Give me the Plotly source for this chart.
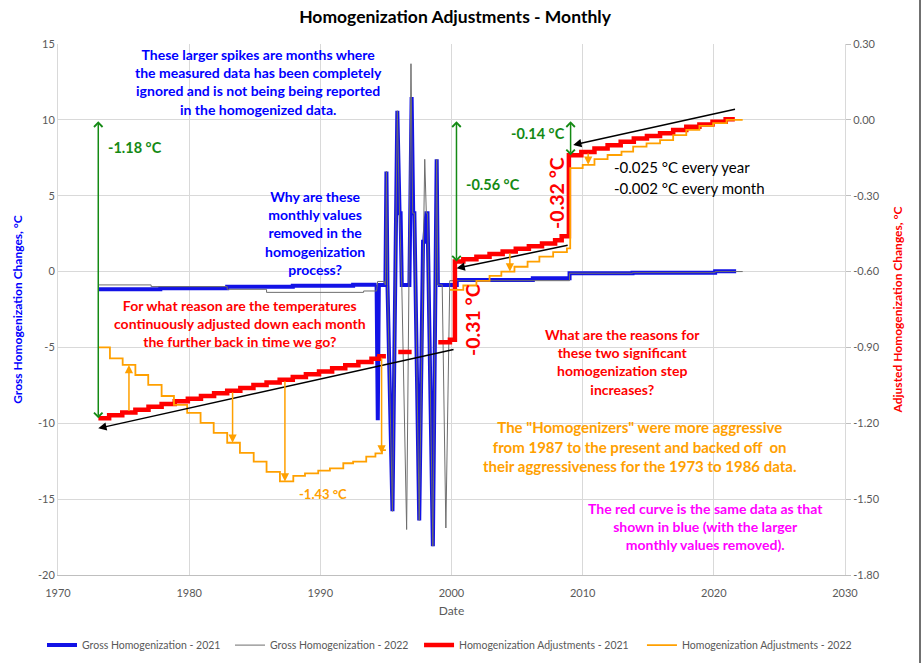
import plotly.graph_objects as go

# ---------------- data (decimal years, °C) ----------------
# Gross Homogenization - 2021 (left axis): stepped parts and the spiky 1994-1999 months
gross21_early_years = [1973.08, 1977.8, 1982.9, 1987.9, 1992.5]
gross21_early_vals = [-1.17, -1.10, -1.00, -0.93, -0.87]
gross21_early_end = 1994.29
gross21_spike_years = [1994.29, 1994.38, 1994.46, 1994.96, 1995.04, 1995.12, 1995.50, 1995.87,
                       1996.04, 1996.12, 1996.21, 1996.79, 1996.96, 1997.08, 1997.17, 1997.54,
                       1997.83, 1997.92, 1998.08, 1998.17, 1998.58, 1998.87, 1998.96]
gross21_spike_vals = [-0.87, -9.8, -0.88, -0.88, 6.6, -0.9, -15.8, 10.6,
                      3.85, 3.85, -0.88, -0.88, 11.5, 3.85, 3.85, -16.4,
                      1.97, 1.97, 3.85, 3.85, -18.1, 7.4, -0.88]
gross21_late_years = [1998.96, 2000.4, 2006.2, 2009.0, 2013.8, 2020.1]
gross21_late_vals = [-0.88, -0.55, -0.44, -0.11, -0.07, 0.02]
gross21_late_end = 2021.7

# Gross Homogenization - 2022 (left axis)
gross22_early_years = [1973.08, 1977.1, 1982.9, 1985.9, 1993.3]
gross22_early_vals = [-0.88, -0.99, -1.17, -1.37, -1.28]
gross22_early_end = 1994.29
gross22_spike_years = [1994.29, 1994.37, 1994.87, 1994.96, 1995.04, 1995.12, 1995.50, 1995.87,
                       1996.04, 1996.21, 1996.58, 1996.91, 1997.04, 1997.17, 1997.54, 1997.96,
                       1998.08, 1998.17, 1998.58, 1998.87, 1998.96, 1999.29, 1999.57, 1999.87,
                       2000.04]
gross22_spike_vals = [-1.28, -0.65, -0.65, -0.88, 6.6, -0.9, -15.8, 10.6,
                      3.85, -0.88, -17.0, 13.7, 3.85, 3.85, -16.4, 7.4,
                      3.85, 3.85, -18.1, 7.4, -0.88, -0.88, -16.9, -0.6,
                      -0.6]
gross22_late_years = [2000.04, 2009.0, 2013.8, 2020.1]
gross22_late_vals = [-0.6, -0.11, -0.07, 0.0]
gross22_late_end = 2022.2

# Homogenization Adjustments - 2021 (right axis), yearly steps
adj21_a_years = [1973.08, 1973.9, 1974.9, 1975.9, 1976.9, 1977.9, 1978.9, 1979.9, 1980.9,
                 1981.9, 1982.9, 1983.9, 1984.9, 1985.9, 1986.9, 1987.9, 1988.9, 1989.9,
                 1990.9, 1991.9, 1992.9, 1993.9, 1994.5]
adj21_a_vals = [-1.18, -1.168, -1.157, -1.146, -1.135, -1.124, -1.113, -1.103, -1.092,
                -1.081, -1.071, -1.060, -1.049, -1.039, -1.028, -1.017, -1.006, -0.995,
                -0.982, -0.970, -0.958, -0.945, -0.935]
adj21_a_end = 1995.0
adj21_b_years = [1995.94]
adj21_b_vals = [-0.918]
adj21_b_end = 1996.96
adj21_c_years = [1998.99, 1999.88, 2000.26, 2000.9, 2001.9, 2002.9, 2003.9, 2004.9, 2005.9,
                 2006.9, 2007.9, 2008.4, 2008.95, 2009.9, 2010.9, 2011.9, 2012.9, 2013.9,
                 2014.9, 2015.9, 2016.9, 2017.9, 2018.9, 2019.9, 2020.9]
adj21_c_vals = [-0.880, -0.870, -0.56, -0.551, -0.541, -0.531, -0.521, -0.510, -0.500,
                -0.489, -0.476, -0.46, -0.14, -0.127, -0.113, -0.100, -0.087, -0.074,
                -0.064, -0.053, -0.040, -0.027, -0.018, -0.007, 0.002]
adj21_c_end = 2021.6

# Homogenization Adjustments - 2022 (right axis)
adj22_a_years = [1973.08, 1973.96, 1974.93, 1975.9, 1976.88, 1977.9, 1978.84, 1979.85, 1980.87,
                 1981.87, 1982.9, 1983.87, 1984.92, 1985.9, 1986.92, 1987.94, 1988.83, 1989.84,
                 1990.73, 1991.75, 1992.5, 1993.5, 1994.2, 1994.7]
adj22_a_vals = [-0.90, -0.943, -0.969, -1.009, -1.048, -1.092, -1.127, -1.159, -1.198,
                -1.238, -1.277, -1.317, -1.352, -1.392, -1.43, -1.408, -1.398, -1.387,
                -1.378, -1.358, -1.352, -1.332, -1.319, -1.306]
adj22_a_end = 1995.0
adj22_b_years = [1999.88, 2000.9, 2001.9, 2002.9, 2003.8, 2004.8, 2005.8, 2006.7, 2007.75,
                 2008.8, 2009.05, 2010.0, 2010.9, 2011.9, 2012.96, 2013.85, 2014.87, 2015.9,
                 2016.9, 2017.9, 2018.9, 2019.95, 2020.97]
adj22_b_vals = [-0.672, -0.655, -0.637, -0.617, -0.600, -0.581, -0.561, -0.541, -0.523,
                -0.508, -0.191, -0.178, -0.155, -0.139, -0.126, -0.106, -0.093, -0.080,
                -0.060, -0.040, -0.024, -0.013, 0.0]
adj22_b_end = 2022.2

# axis ticks
left_ticks = [15, 10, 5, 0, -5, -10, -15, -20]
right_ticks = [0.30, 0.00, -0.30, -0.60, -0.90, -1.20, -1.50, -1.80]
x_ticks = [1970, 1980, 1990, 2000, 2010, 2020, 2030]

# ---------------- helpers ----------------
def step_xy(segments):
    xs, ys = [], []
    for years, vals, end in segments:
        if xs:
            xs.append(None)
            ys.append(None)
        xs += list(years) + [end]
        ys += list(vals) + [vals[-1]]
    return xs, ys


def level_at(years, vals, t):
    v = vals[0]
    for yr, val in zip(years, vals):
        if yr <= t:
            v = val
    return v


FONT = "Lato"
BLUE = "#1212e6"
GRAY = "#6e6e6e"
RED = "#ff0000"
ORANGE = "#ffa000"
GREEN = "#148a14"

fig = go.Figure()

# Gross 2021
x, y = step_xy([(gross21_early_years, gross21_early_vals, gross21_early_end),
                (gross21_late_years, gross21_late_vals, gross21_late_end)])
fig.add_trace(go.Scatter(x=x, y=y, mode="lines", line=dict(color=BLUE, width=4, shape="hv"),
                         name="Gross Homogenization - 2021", legendgroup="g21", legend="legend"))
fig.add_trace(go.Scatter(x=gross21_spike_years, y=gross21_spike_vals, mode="lines",
                         line=dict(color=BLUE, width=4), legendgroup="g21", showlegend=False))
# Gross 2022
x, y = step_xy([(gross22_early_years, gross22_early_vals, gross22_early_end),
                (gross22_late_years, gross22_late_vals, gross22_late_end)])
fig.add_trace(go.Scatter(x=x, y=y, mode="lines", line=dict(color=GRAY, width=1, shape="hv"),
                         name="Gross Homogenization - 2022", legendgroup="g22", legend="legend2"))
fig.add_trace(go.Scatter(x=gross22_spike_years, y=gross22_spike_vals, mode="lines",
                         line=dict(color=GRAY, width=1), legendgroup="g22", showlegend=False))
# Adjustments 2021
x, y = step_xy([(adj21_a_years, adj21_a_vals, adj21_a_end),
                (adj21_b_years, adj21_b_vals, adj21_b_end),
                (adj21_c_years, adj21_c_vals, adj21_c_end)])
fig.add_trace(go.Scatter(x=x, y=y, yaxis="y2", mode="lines",
                         line=dict(color=RED, width=4.5, shape="hv"),
                         name="Homogenization Adjustments - 2021", legend="legend3"))
# Adjustments 2022
x, y = step_xy([(adj22_a_years, adj22_a_vals, adj22_a_end),
                (adj22_b_years, adj22_b_vals, adj22_b_end)])
fig.add_trace(go.Scatter(x=x, y=y, yaxis="y2", mode="lines",
                         line=dict(color=ORANGE, width=1.8, shape="hv"),
                         name="Homogenization Adjustments - 2022", legend="legend4"))

adj21_years = adj21_a_years + adj21_c_years
adj21_vals = adj21_a_vals + adj21_c_vals
adj22_years = adj22_a_years + adj22_b_years
adj22_vals = adj22_a_vals + adj22_b_vals

ann = []


def arrow(x_head, y_head, x_tail, y_tail, color, both=False, head=4, yref="y2"):
    ann.append(dict(x=x_head, y=y_head, ax=x_tail, ay=y_tail, xref="x", yref=yref,
                    axref="x", ayref=yref, text="", showarrow=True, arrowhead=head,
                    startarrowhead=head, arrowside="end+start" if both else "end",
                    arrowsize=1.1, startarrowsize=1.1, arrowwidth=1.5, arrowcolor=color))


# green spans from the 0.00 line down to the red curve
for t in (1973.07, 2000.38, 2009.08):
    arrow(t, level_at(adj21_years, adj21_vals, t), t, 0.0, GREEN, both=True)

# black trend arrows
arrow(1973.07, -1.22, 2000.27, -0.907, "black", head=2)
arrow(2000.39, -0.587, 2008.97, -0.495, "black", head=2)
arrow(2009.28, -0.099, 2021.73, 0.043, "black", head=2)

# orange arrows from the 2021 curve to the 2022 curve
for t in (1975.41, 1983.31, 1987.3, 1994.67, 2004.45, 2010.42):
    arrow(t, level_at(adj22_years, adj22_vals, t), t, level_at(adj21_years, adj21_vals, t),
          ORANGE, head=2)


def label(x, y, text, color, size, xanchor="center", angle=0, bold=True):
    ann.append(dict(x=x, y=y, xref="x", yref="y", text=f"<b>{text}</b>" if bold else text,
                    showarrow=False, xanchor=xanchor, yanchor="middle", align="center",
                    textangle=angle, font=dict(family=FONT, size=size, color=color)))


label(1985.25, 12.47, "These larger spikes are months where<br>the measured data has been completely"
      "<br>ignored and is not being being reported<br>in the homogenized data.", "#0000ff", 14)
label(1989.59, 2.51, "Why are these<br>monthly values<br>removed in the<br>homogenization<br>process?",
      "#0000ff", 14)
label(1983.87, -3.39, "For what reason are the temperatures<br>continuously adjusted down each month"
      "<br>the further back in time we go?", RED, 14)
label(2013.07, -5.96, "What are the reasons for<br>these two significant<br>homogenization step<br>increases?",
      RED, 14)
label(2014.37, -11.5, "The \"Homogenizers\" were more aggressive<br>from 1987 to the present and backed off  on"
      "<br>their aggressiveness for the 1973 to 1986 data.", ORANGE, 15)
label(2019.4, -16.8, "The red curve is the same data as that<br>shown in blue (with the larger"
      "<br>monthly values removed).", "#ff00ff", 14)
label(1990.2, -14.66, "-1.43 °C", ORANGE, 13)
label(2012.24, 6.9, "-0.025 °C every year", "black", 15, xanchor="left", bold=False)
label(2012.24, 5.51, "-0.002 °C every month", "black", 15, xanchor="left", bold=False)
label(1973.66, 8.21, "-1.18 °C", GREEN, 14.5, xanchor="left")
label(2000.95, 5.71, "-0.56 °C", GREEN, 14.5, xanchor="left")
label(2004.38, 9.07, "-0.14 °C", GREEN, 14.5, xanchor="left")
label(2001.64, -3.19, "-0.31 °C", RED, 19.5, angle=-90)
label(2008.04, 5.18, "-0.32 °C", RED, 19.5, angle=-90)

tickfont = dict(family=FONT, size=11, color="#595959")


def legend_box(xpos):
    return dict(orientation="h", xref="container", x=xpos, xanchor="left",
                yref="container", y=0.027, yanchor="middle", itemwidth=30,
                font=dict(family=FONT, size=10.5, color="#595959"), bgcolor="rgba(0,0,0,0)")


fig.update_layout(
    width=923, height=663,
    margin=dict(l=58, r=78, t=44, b=88, autoexpand=False),
    paper_bgcolor="white", plot_bgcolor="white",
    font=dict(family=FONT),
    title=dict(text="<b>Homogenization Adjustments - Monthly</b>", x=0.493, xanchor="center",
               y=0.974, yanchor="middle", font=dict(family=FONT, size=17.5, color="black")),
    xaxis=dict(range=[1970, 2030], tickvals=x_ticks, ticktext=[str(v) for v in x_ticks],
               showgrid=True, gridcolor="#d9d9d9", gridwidth=1, zeroline=False,
               showline=True, linecolor="#bfbfbf", ticks="", tickfont=tickfont,
               ticklabelstandoff=8,
               title=dict(text="Date", font=dict(family=FONT, size=12, color="#595959"), standoff=8)),
    yaxis=dict(range=[-20, 15], tickvals=left_ticks, ticktext=[str(v) for v in left_ticks],
               showgrid=True, gridcolor="#d9d9d9", gridwidth=1, zeroline=False,
               showline=True, linecolor="#d9d9d9", ticks="", tickfont=tickfont,
               title=dict(text="<b>Gross Homogenization Changes, °C</b>",
                          font=dict(family=FONT, size=12, color="#0000ff"), standoff=12)),
    yaxis2=dict(range=[-1.8, 0.3], overlaying="y", side="right", tickvals=right_ticks,
                ticktext=[f"{v:.2f}" for v in right_ticks], showgrid=False, zeroline=False,
                showline=True, linecolor="#d9d9d9", ticks="outside", ticklen=5,
                tickcolor="#bfbfbf", tickfont=tickfont,
                title=dict(text="<b>Adjusted Homogenization Changes, °C</b>",
                           font=dict(family=FONT, size=12, color=RED), standoff=14)),
    legend=legend_box(0.0455),
    legend2=legend_box(0.2492),
    legend3=legend_box(0.454),
    legend4=legend_box(0.6955),
    annotations=ann,
    shapes=[dict(type="line", xref="paper", yref="paper", x0=1.0953, x1=1.0953,
                 y0=-0.17, y1=1.09, line=dict(color="#404040", width=1.5))],
)

fig.write_html("out.html")
